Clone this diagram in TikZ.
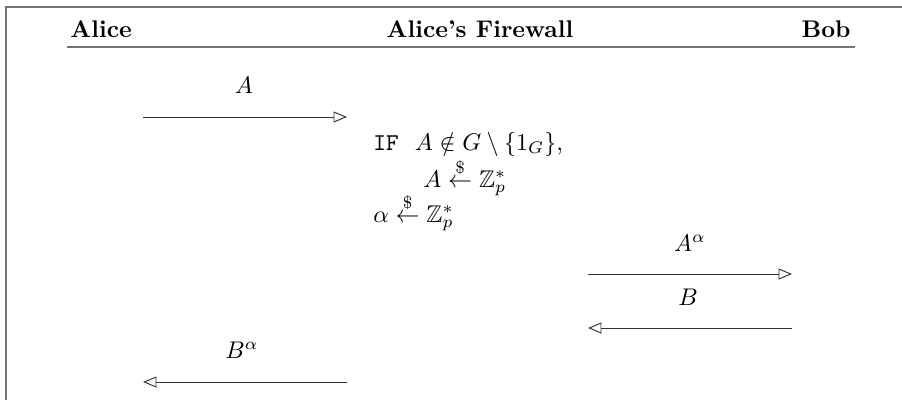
\documentclass[tikz,border=0pt]{standalone}
\usepackage{amsmath}
\usepackage{amssymb}
\usetikzlibrary{arrows.meta}

\begin{document}
\begin{tikzpicture}[x=0.415pt, y=-0.415pt, >={Triangle[open, length=5.6pt, width=4.6pt]},
                    frame/.style={draw=black!55, line width=0.65pt},
                    party/.style={font=\bfseries, inner sep=0pt},
                    lbl/.style={inner sep=0pt, anchor=base},
                    fwstep/.style={inner sep=0pt, anchor=base west},
                    msg/.style={->, line width=0.4pt, draw=black!80}]
                    \useasboundingbox (0,0) rectangle (902,400);

                    % Frame
                    \draw[frame] (902,7) -- (6,7) -- (6,400);

                    % Parties
                    \node[party, anchor=base west] (alice) at (70, 37) {Alice};
                    \node[party, anchor=base] (fw) at (480, 37) {Alice's Firewall};
                    \node[party, anchor=base east] (bob) at (851, 37) {Bob};

                    \coordinate (ul0) at (67, 47); \coordinate (ul1) at (855, 47);
                    \draw[frame] (ul0) -- (ul1);

                    % Alice to firewall
                    \node[lbl] (lA) at (244, 93) {$A$};
                    \coordinate (a0) at (143, 117); \coordinate (a1) at (347, 117);
                    \draw[msg] (a0) -- (a1);

                    % Firewall
                    \node[fwstep] (fw0) at (373, 150) {\texttt{IF}\ \ $A \notin G \setminus \{1_G\}$,};
                    \node[fwstep] (fw1) at (423, 187) {$A \stackrel{\$}{\leftarrow} \mathbb{Z}_p^*$};
                    \node[fwstep] (fw2) at (373, 222) {$\alpha \stackrel{\$}{\leftarrow} \mathbb{Z}_p^*$};

                    % Firewall to Bob
                    \node[lbl] (lAa) at (690, 251) {$A^\alpha$};
                    \coordinate (b0) at (588, 274); \coordinate (b1) at (792, 274);
                    \draw[msg] (b0) -- (b1);

                    % Bob to firewall
                    \node[lbl] (lB) at (688, 305) {$B$};
                    \coordinate (c0) at (792, 328); \coordinate (c1) at (588, 328);
                    \draw[msg] (c0) -- (c1);

                    % Firewall to Alice
                    \node[lbl] (lBa) at (242, 358) {$B^\alpha$};
                    \coordinate (d0) at (347, 382); \coordinate (d1) at (143, 382);
                    \draw[msg] (d0) -- (d1);

                \end{tikzpicture}
\end{document}
